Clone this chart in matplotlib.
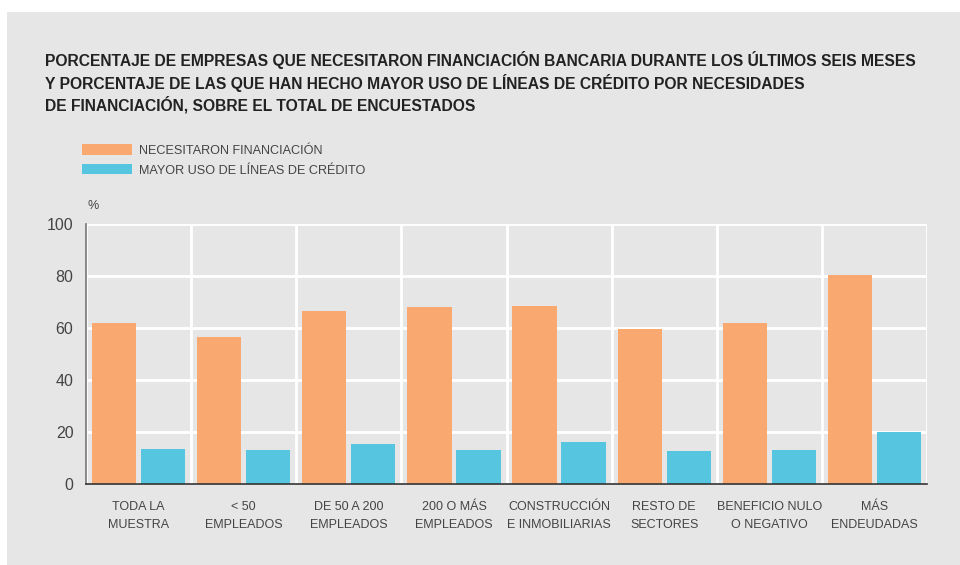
import numpy as np
import matplotlib.pyplot as plt
from matplotlib.patches import Rectangle

plt.rcParams['font.family'] = ['Liberation Sans', 'DejaVu Sans']

# data
categories = ["TODA LA\nMUESTRA", "< 50\nEMPLEADOS", "DE 50 A 200\nEMPLEADOS",
              "200 O MÁS\nEMPLEADOS", "CONSTRUCCIÓN\nE INMOBILIARIAS",
              "RESTO DE\nSECTORES", "BENEFICIO NULO\nO NEGATIVO", "MÁS\nENDEUDADAS"]
necesitaron = [62, 56.5, 66.5, 68, 68.5, 59.7, 62, 80.5]
mayor_uso = [13.5, 13.1, 15.4, 13.1, 16.2, 12.7, 13.1, 20]

orange = "#f9a870"
blue = "#56c5e0"
bg = "#e6e6e6"

fig = plt.figure(figsize=(9.6, 5.65), dpi=100)
fig.patch.set_facecolor("white")
fig.patches.append(Rectangle((7 / 960, 0), 1, 1 - 12 / 565, transform=fig.transFigure,
                             facecolor=bg, edgecolor="none", zorder=-10))

# title
fig.text(45 / 960, 1 - 51 / 565,
         "PORCENTAJE DE EMPRESAS QUE NECESITARON FINANCIACIÓN BANCARIA DURANTE LOS ÚLTIMOS SEIS MESES\n"
         "Y PORCENTAJE DE LAS QUE HAN HECHO MAYOR USO DE LÍNEAS DE CRÉDITO POR NECESIDADES\n"
         "DE FINANCIACIÓN, SOBRE EL TOTAL DE ENCUESTADOS",
         fontsize=11.25, fontweight="bold", color="#222222", va="top", linespacing=1.3)

ax = fig.add_axes([86 / 960, 1 - 484 / 565, 841 / 960, 260 / 565])
ax.set_facecolor(bg)

x = np.arange(len(categories))
ax.bar(x - 0.233, necesitaron, width=0.42, color=orange, zorder=3,
       label="NECESITARON FINANCIACIÓN")
ax.bar(x + 0.233, mayor_uso, width=0.42, color=blue, zorder=3,
       label="MAYOR USO DE LÍNEAS DE CRÉDITO")

ax.set_xlim(-0.5, len(categories) - 0.5)
ax.set_ylim(0, 100)
ax.set_yticks([0, 20, 40, 60, 80, 100])
ax.set_xticks(x)
ax.set_xticklabels(categories, fontsize=9, color="#444444", linespacing=1.75)
ax.tick_params(axis="y", labelsize=11.5, colors="#444444", length=0, pad=9)
ax.tick_params(axis="x", length=0, pad=12)

# white grid: horizontal at ticks, vertical between categories
ax.set_xticks(np.arange(len(categories) + 1) - 0.5, minor=True)
ax.tick_params(which="minor", length=0)
ax.grid(True, which="minor", axis="x", color="white", linewidth=2, zorder=1)
ax.grid(True, which="major", axis="y", color="white", linewidth=2, zorder=1)

for s in ["top", "right"]:
    ax.spines[s].set_visible(False)
ax.spines["left"].set_color("#777777")
ax.spines["left"].set_linewidth(1.2)
ax.spines["bottom"].set_color("#333333")
ax.spines["bottom"].set_linewidth(1.2)
ax.spines["bottom"].set_zorder(4)

ax.text(2 / 841, 1.045, "%", transform=ax.transAxes, fontsize=9, color="#444444", va="bottom")

fig.legend(loc="upper left", bbox_to_anchor=(71 / 960, 1 - 133 / 565), frameon=False,
           fontsize=9.1, handlelength=3.9, handleheight=0.9, handletextpad=0.55,
           labelspacing=0.55, labelcolor="#444444")

plt.savefig("out.png", dpi=100, facecolor=fig.get_facecolor())
